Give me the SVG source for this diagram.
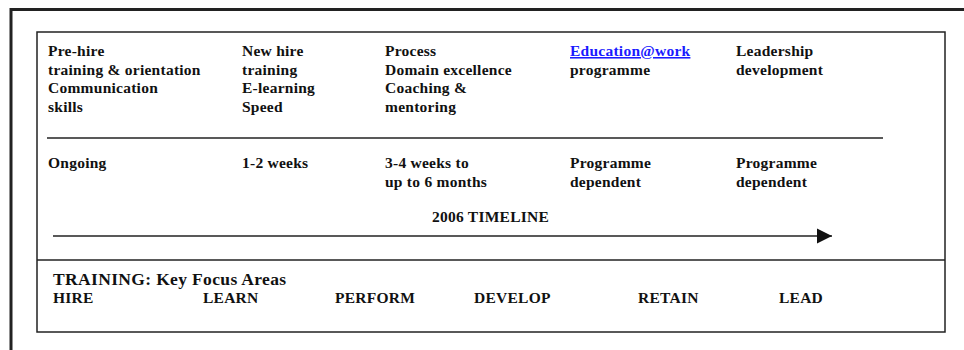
<svg xmlns="http://www.w3.org/2000/svg" width="964" height="350" viewBox="0 0 964 350">
<style>
text{font-family:"Liberation Serif","Times New Roman",serif;font-weight:bold;font-size:15.5px;letter-spacing:0.25px;fill:#111}
.big{font-size:17.5px;letter-spacing:0.35px}
.link{fill:#1a1aff;text-decoration:underline}
.frame{stroke:#222;stroke-width:3;fill:none}
.box{stroke:#222;stroke-width:1.5;fill:none}
.ln{stroke:#222;stroke-width:1.3;fill:none}
</style>
<defs>
<marker id="ah" markerWidth="16" markerHeight="16" refX="15" refY="8" orient="auto" markerUnits="userSpaceOnUse">
<path d="M0,0.5 L15,8 L0,15.5 Z" fill="#111"/>
</marker>
</defs>
<rect width="964" height="350" fill="#fff"/>
<g id="frame">
<path class="frame" d="M11,350 V9.5 H964"/>
<rect class="box" x="37" y="32" width="908" height="300"/>
<line class="box" x1="37" y1="260" x2="945" y2="260"/>
<line class="ln" x1="47" y1="138" x2="883" y2="138"/>
</g>
<g id="connectors">
<line class="ln" x1="53" y1="236" x2="832" y2="236" marker-end="url(#ah)"/>
</g>
<g id="col1">
<text x="48" y="56">Pre-hire</text>
<text x="48" y="74.5">training &amp; orientation</text>
<text x="48" y="93">Communication</text>
<text x="48" y="111.5">skills</text>
<text x="48" y="168">Ongoing</text>
</g>
<g id="col2">
<text x="242" y="56">New hire</text>
<text x="242" y="74.5">training</text>
<text x="242" y="93">E-learning</text>
<text x="242" y="111.5">Speed</text>
<text x="242" y="168">1-2 weeks</text>
</g>
<g id="col3">
<text x="385" y="56">Process</text>
<text x="385" y="74.5">Domain excellence</text>
<text x="385" y="93">Coaching &amp;</text>
<text x="385" y="111.5">mentoring</text>
<text x="385" y="168">3-4 weeks to</text>
<text x="385" y="186.5">up to 6 months</text>
</g>
<g id="col4">
<text x="570" y="56" class="link">Education@work</text>
<text x="570" y="74.5">programme</text>
<text x="570" y="168">Programme</text>
<text x="570" y="186.5">dependent</text>
</g>
<g id="col5">
<text x="736" y="56">Leadership</text>
<text x="736" y="74.5">development</text>
<text x="736" y="168">Programme</text>
<text x="736" y="186.5">dependent</text>
</g>
<g id="timeline">
<text x="432" y="222">2006 TIMELINE</text>
</g>
<g id="focus">
<text x="53" y="285" class="big">TRAINING: Key Focus Areas</text>
<text x="53" y="303">HIRE</text>
<text x="203" y="303">LEARN</text>
<text x="335" y="303">PERFORM</text>
<text x="474" y="303">DEVELOP</text>
<text x="638" y="303">RETAIN</text>
<text x="779" y="303">LEAD</text>
</g>
</svg>
